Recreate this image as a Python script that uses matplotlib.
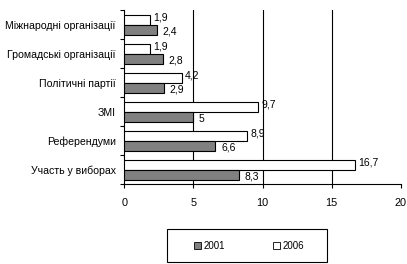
import numpy as np
import matplotlib.pyplot as plt
from matplotlib.patches import Patch, Rectangle

plt.rcParams['font.family'] = ['Liberation Sans', 'DejaVu Sans']

categories = ["Міжнародні організації", "Громадські організації", "Політичні партії",
              "ЗМІ", "Референдуми", "Участь у виборах"]
v2001 = [2.4, 2.8, 2.9, 5, 6.6, 8.3]
v2006 = [1.9, 1.9, 4.2, 9.7, 8.9, 16.7]
labels2001 = ["2,4", "2,8", "2,9", "5", "6,6", "8,3"]
labels2006 = ["1,9", "1,9", "4,2", "9,7", "8,9", "16,7"]

fig = plt.figure(figsize=(4.07, 2.64), dpi=100)
ax = fig.add_axes([0.305, 0.303, 0.68, 0.659])

y = np.arange(len(categories))
h = 0.345
ax.barh(y - h / 2, v2006, height=h, color="white", edgecolor="black", linewidth=0.8, zorder=3)
ax.barh(y + h / 2, v2001, height=h, color="#808080", edgecolor="black", linewidth=0.8, zorder=3)

for i in range(len(categories)):
    ax.text(v2006[i] + 0.2, y[i] - h / 2 - 0.08, labels2006[i], fontsize=7.5, va="center", ha="left")
    ax.text(v2001[i] + 0.4, y[i] + h / 2 + 0.08, labels2001[i], fontsize=7.5, va="center", ha="left")

ax.set_xlim(0, 20)
ax.set_ylim(len(categories) - 0.5, -0.5)
ax.set_xticks([0, 5, 10, 15, 20])
ax.tick_params(axis="x", labelsize=7.8, length=3, width=0.8, pad=7)
ax.set_yticks(y)
ax.set_yticklabels(categories, fontsize=7.6)
ax.tick_params(axis="y", length=0, pad=6)
ax.set_yticks(np.arange(len(categories) + 1) - 0.5, minor=True)
ax.tick_params(axis="y", which="minor", length=3, width=0.8, direction="out")

for x in [5, 10, 15]:
    ax.axvline(x, color="black", linewidth=0.8, zorder=1)

for side in ["top", "right"]:
    ax.spines[side].set_visible(False)
ax.spines["left"].set_linewidth(0.8)
ax.spines["bottom"].set_linewidth(0.8)

# legend box drawn separately so the entries sit well inside it
fig.patches.append(Rectangle((0.410, 0.008), 0.393, 0.125, transform=fig.transFigure,
                             facecolor="white", edgecolor="black", linewidth=0.8))
handles = [Patch(facecolor="#808080", edgecolor="black", linewidth=0.6, label="2001"),
           Patch(facecolor="white", edgecolor="black", linewidth=0.6, label="2006")]
fig.legend(handles=handles, loc="center", bbox_to_anchor=(0.612, 0.07), ncol=2,
           fontsize=7, frameon=False, handlelength=0.7, handleheight=0.7,
           handletextpad=0.2, columnspacing=5.0, borderaxespad=0)

fig.savefig("out.png", dpi=100)
